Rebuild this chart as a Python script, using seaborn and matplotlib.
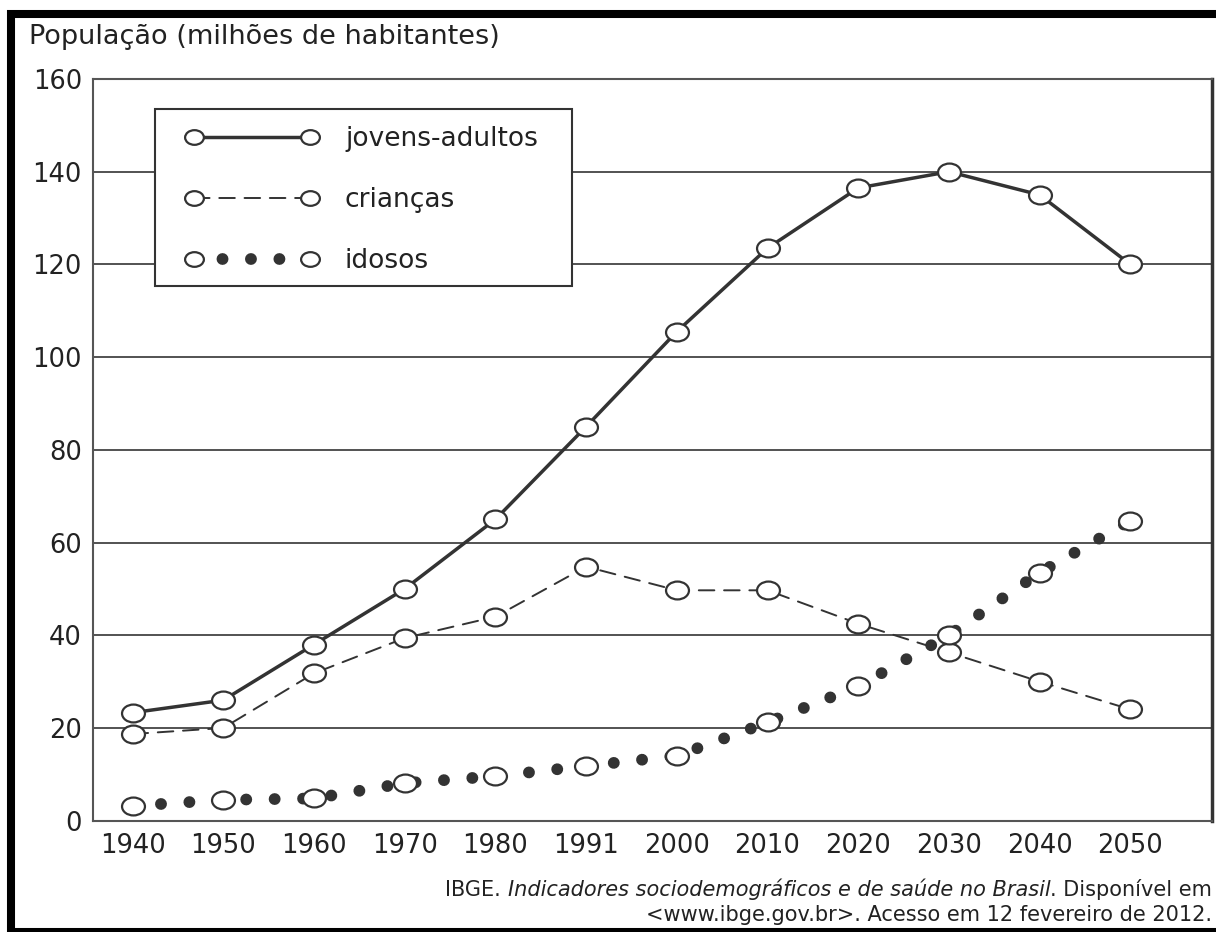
import pandas as pd
import matplotlib
matplotlib.use('Agg')
import matplotlib.pyplot as plt
from matplotlib.path import Path
from matplotlib.patches import Rectangle
import seaborn as sns

anos = ['1940', '1950', '1960', '1970', '1980', '1991',
        '2000', '2010', '2020', '2030', '2040', '2050']
jovens_adultos = [23.3, 26.0, 38.0, 50.0, 65.0, 85.0, 105.5, 123.5, 136.5, 140.0, 135.0, 120.0]
criancas = [18.7, 20.0, 31.8, 39.4, 44.0, 54.8, 49.7, 49.7, 42.5, 36.3, 30.0, 24.0]
idosos = [3.2, 4.5, 4.8, 8.1, 9.6, 11.8, 14.0, 21.2, 29.0, 40.0, 53.5, 64.7]
grupos = ['jovens-adultos', 'crianças', 'idosos']
yticks = [0, 20, 40, 60, 80, 100, 120, 140, 160]

df = pd.DataFrame({
    'Ano': anos * 3,
    'Populacao': jovens_adultos + criancas + idosos,
    'Grupo': [g for g in grupos for _ in anos],
})

sns.set_theme(style='white')
plt.rcParams['font.family'] = ['DejaVu Sans']
plt.rcParams['text.color'] = '#222222'

cor = '#333333'
W, H = 1216, 932

# marcador: círculo um pouco achatado, como no original
circ = Path.unit_circle()
elipse = Path(circ.vertices * [1.0, 0.78], circ.codes)

fig = plt.figure(figsize=(12.16, 9.32), dpi=100)
ax = fig.add_axes([93 / W, 1 - 820.7 / H, (1212 - 93) / W, (820.7 - 79) / H])

estilos = {
    'jovens-adultos': dict(lw=2.5, ls='-'),
    'crianças': dict(lw=1.4, ls=(0, (8, 5))),
    'idosos': dict(lw=8.5, ls=(0, (0.01, 2.4))),
}
for grupo in grupos:
    st = estilos[grupo]
    sns.lineplot(data=df[df['Grupo'] == grupo], x='Ano', y='Populacao', ax=ax,
                 sort=False, errorbar=None, color=cor,
                 linewidth=st['lw'], linestyle=st['ls'],
                 marker=elipse, markersize=16.5, markerfacecolor='white',
                 markeredgecolor=cor, markeredgewidth=1.6, label=grupo)

linhas = ax.get_lines()
for ln in linhas:
    ln.set_dash_capstyle('round')

ax.set_xlim(-0.436, 11.9)
ax.set_ylim(0, 160)
ax.set_yticks(yticks)
ax.set_xlabel('')
ax.set_ylabel('')
ax.tick_params(axis='both', length=0, labelsize=18.5, colors='#222222')
ax.tick_params(axis='y', pad=8)
ax.tick_params(axis='x', pad=9)
ax.set_axisbelow(True)
ax.yaxis.grid(True, color='#444444', lw=1.3)
ax.xaxis.grid(False)
for lado in ['top', 'left', 'bottom']:
    ax.spines[lado].set_color('#555555')
    ax.spines[lado].set_linewidth(1.5)
ax.spines['right'].set_color(cor)
ax.spines['right'].set_linewidth(2.5)

# caixa da legenda
ax.add_patch(Rectangle((155 / W, 1 - 286 / H), 417 / W, 177 / H, transform=fig.transFigure,
                       facecolor='white', edgecolor=cor, lw=1.5, zorder=5))
leg = ax.legend(handles=linhas, labels=grupos, loc='center left', numpoints=2,
                bbox_to_anchor=(186.1 / W, 1 - 200 / H), bbox_transform=fig.transFigure,
                frameon=False, borderpad=0, borderaxespad=0, handlelength=4.99,
                handletextpad=1.03, labelspacing=1.32, fontsize=19, markerscale=0.82)
leg.set_zorder(6)

# título do eixo
fig.text(28.7 / W, 1 - 43.5 / H, 'População (milhões de habitantes)', fontsize=19.5, va='baseline')

# fonte
fs = 15
t3 = fig.text(1212 / W, 1 - 896 / H, '. Disponível em', ha='right', va='baseline', fontsize=fs)
t2 = ax.annotate('Indicadores sociodemográficos e de saúde no Brasil', xy=(0, 0), xycoords=t3,
                 ha='right', va='bottom', fontsize=fs, style='italic', annotation_clip=False)
ax.annotate('IBGE.', xy=(0, 0), xycoords=t2, xytext=(-5, 0), textcoords='offset points',
            ha='right', va='bottom', fontsize=fs, annotation_clip=False)
fig.text(1212 / W, 1 - 921 / H, '<www.ibge.gov.br>. Acesso em 12 fevereiro de 2012.',
         ha='right', va='baseline', fontsize=fs)

# moldura preta
fig.add_artist(Rectangle((11 / W, 0), (1240 - 11) / W, (H - 14) / H, transform=fig.transFigure,
                         fill=False, edgecolor='black', lw=5.8, clip_on=False))

fig.savefig('out.png', dpi=100)
